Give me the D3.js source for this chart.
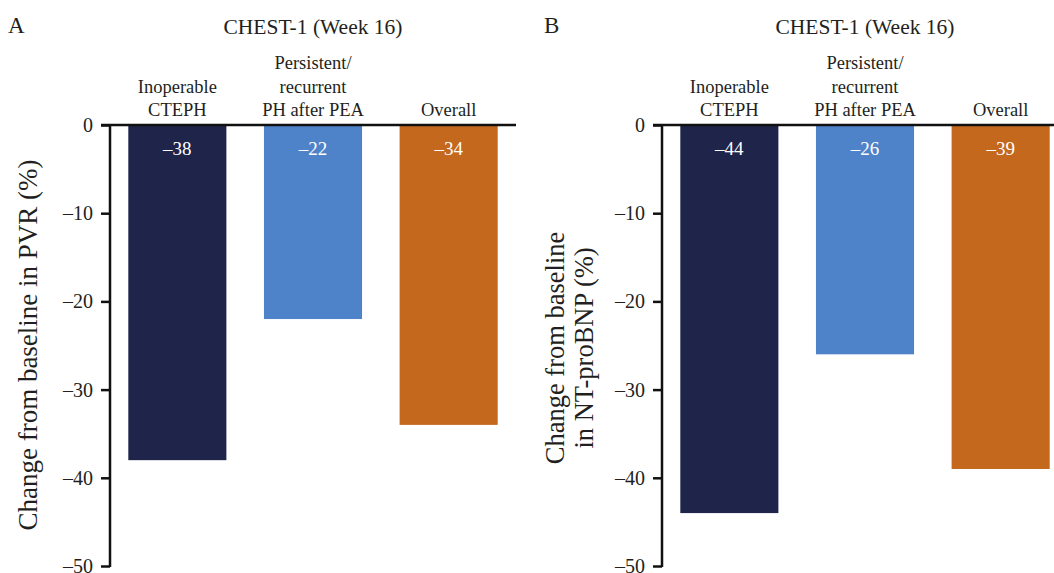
<!DOCTYPE html>
<html>
<head>
<meta charset="utf-8">
<script src="https://cdn.jsdelivr.net/npm/d3@7"></script>
<style>
  body { margin: 0; background: #fff; }
  svg text { font-family: "Liberation Serif", "Times New Roman", serif; fill: #231f20; }
</style>
</head>
<body>
<svg class="chart" width="1054" height="573"></svg>
<script>
let categories = ['Inoperable\nCTEPH', 'Persistent/\nrecurrent\nPH after PEA', 'Overall'];
let pvrValues = [-38, -22, -34];
let ntValues = [-44, -26, -39];
let yTicks = [0, -10, -20, -30, -40, -50];
let barColors = ['#1f244a', '#4f83c9', '#c4681e'];

let svg = d3.select('svg.chart');

function drawPanel(opts) {
  let g = svg.append('g');

  let x = d3.scaleBand()
    .domain(categories)
    .range([opts.left, opts.right])
    .paddingInner(0.277)
    .paddingOuter(0.135);

  let y = d3.scaleLinear()
    .domain([-50, 0])
    .range([566, 125]);

  // bars
  g.selectAll('rect.bar')
    .data(opts.values)
    .enter()
    .append('rect')
    .attr('class', 'bar')
    .attr('x', (d, i) => x(categories[i]))
    .attr('y', y(0))
    .attr('width', x.bandwidth())
    .attr('height', d => y(d) - y(0))
    .style('fill', (d, i) => barColors[i]);

  // value labels inside bars
  g.selectAll('text.val')
    .data(opts.values)
    .enter()
    .append('text')
    .attr('class', 'val')
    .attr('x', (d, i) => x(categories[i]) + x.bandwidth() / 2)
    .attr('y', y(0) + 30)
    .attr('text-anchor', 'middle')
    .style('font-size', '19px')
    .style('fill', '#fff')
    .text(d => '\u2013' + Math.abs(d));

  // y axis
  let yAxis = d3.axisLeft(y)
    .tickValues(yTicks)
    .tickSize(9)
    .tickPadding(8)
    .tickFormat(d => d == 0 ? '0' : '\u2013' + Math.abs(d));

  let ya = g.append('g')
    .attr('transform', `translate(${opts.left},0)`)
    .call(yAxis);
  ya.select('.domain').remove();
  ya.selectAll('.tick line').style('stroke', '#111').style('stroke-width', 2.5);
  ya.selectAll('.tick text')
    .style('font-size', '20px')
    .style('font-family', '"Liberation Serif", serif')
    .style('fill', '#231f20');

  g.append('line')
    .attr('x1', opts.left)
    .attr('x2', opts.left)
    .attr('y1', y(0))
    .attr('y2', y(-50) + 1)
    .style('stroke', '#111')
    .style('stroke-width', 2.5);

  // zero line along the top
  g.append('line')
    .attr('x1', opts.left - 9)
    .attr('x2', opts.lineEnd)
    .attr('y1', y(0))
    .attr('y2', y(0))
    .style('stroke', '#111')
    .style('stroke-width', 2.5);

  // category labels, bottom line sits just above the zero line
  categories.forEach((c, i) => {
    let lines = c.split('\n');
    lines.forEach((ln, j) => {
      g.append('text')
        .attr('x', x(c) + x.bandwidth() / 2)
        .attr('y', 116 - (lines.length - 1 - j) * 23.5)
        .attr('text-anchor', 'middle')
        .style('font-size', '18.5px')
        .text(ln);
    });
  });

  // title
  g.append('text')
    .attr('x', x(categories[1]) + x.bandwidth() / 2)
    .attr('y', 34)
    .attr('text-anchor', 'middle')
    .style('font-size', '21.5px')
    .text('CHEST-1 (Week 16)');

  // panel letter
  g.append('text')
    .attr('x', opts.letterX)
    .attr('y', 33)
    .style('font-size', '23px')
    .text(opts.letter);

  // y label
  let yl = g.append('text')
    .attr('transform', `translate(${opts.labelX},${opts.labelY}) rotate(-90)`)
    .attr('text-anchor', 'middle')
    .style('font-size', opts.labelSize);
  opts.label.forEach((ln, j) => {
    yl.append('tspan')
      .attr('x', 0)
      .attr('dy', j == 0 ? 0 : 29)
      .text(ln);
  });
}

drawPanel({
  left: 110, right: 516, lineEnd: 516,
  values: pvrValues, letter: 'A', letterX: 8,
  label: ['Change from baseline in PVR (%)'], labelX: 37, labelY: 345, labelSize: '27px'
});

drawPanel({
  left: 662, right: 1068, lineEnd: 1054,
  values: ntValues, letter: 'B', letterX: 544,
  label: ['Change from baseline', 'in NT-proBNP (%)'], labelX: 564, labelY: 348, labelSize: '26.5px'
});
</script>
</body>
</html>
